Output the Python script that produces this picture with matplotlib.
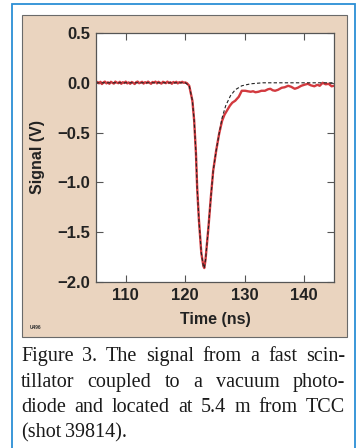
import matplotlib
matplotlib.use("Agg")
import matplotlib.pyplot as plt
from matplotlib.patches import Rectangle

t_sig = [105.0, 105.25, 105.5, 105.75, 106.0, 106.25, 106.5, 106.75, 107.0, 107.25,
         107.5, 107.75, 108.0, 108.25, 108.5, 108.75, 109.0, 109.25, 109.5, 109.75,
         110.0, 110.25, 110.5, 110.75, 111.0, 111.25, 111.5, 111.75, 112.0, 112.25,
         112.5, 112.75, 113.0, 113.25, 113.5, 113.75, 114.0, 114.25, 114.5, 114.75,
         115.0, 115.25, 115.5, 115.75, 116.0, 116.25, 116.5, 116.75, 117.0, 117.25,
         117.5, 117.75, 118.0, 118.25, 118.5, 118.75, 119.0, 119.25, 119.5, 119.75,
         120.0, 120.3, 120.67, 121.2, 121.5, 121.8, 122.0, 122.3, 122.7, 123.05,
         123.2, 123.4, 123.9, 124.3, 124.7, 125.2, 125.7, 126.2, 126.6, 127.1,
         127.5, 127.9, 128.4, 129.0, 129.5, 130.1, 130.5, 131.0, 131.4, 131.8,
         132.3, 132.8, 133.4, 133.9, 134.3, 134.7, 135.1, 135.6, 136.2, 136.7,
         137.3, 137.8, 138.4, 138.9, 139.5, 140.0, 140.6, 141.1, 141.7, 142.2,
         142.6, 143.1, 143.6, 144.1, 144.6, 145.0]
v_sig = [0.0, 0.008, -0.005, 0.01, -0.012, 0.004, 0.012, -0.006, 0.005, -0.01,
         0.01, 0.0, -0.008, 0.012, 0.002, -0.004, 0.01, -0.01, 0.006, -0.002,
         0.012, -0.006, 0.004, -0.01, 0.008, 0.0, -0.012, 0.006, 0.012, -0.004,
         0.002, 0.01, -0.008, 0.006, -0.002, 0.012, 0.0, -0.01, 0.008, 0.002,
         0.012, -0.006, 0.01, 0.0, -0.008, 0.01, 0.004, -0.004, 0.012, -0.002,
         0.006, -0.01, 0.008, 0.0, 0.01, -0.006, 0.006, 0.002, 0.01, 0.0,
         0.004, -0.005, -0.03, -0.18, -0.38, -0.71, -1.05, -1.38, -1.71, -1.84,
         -1.86, -1.78, -1.45, -1.15, -0.88, -0.68, -0.51, -0.38, -0.32, -0.27,
         -0.23, -0.20, -0.18, -0.14, -0.08, -0.08, -0.085, -0.09, -0.085, -0.095,
         -0.09, -0.08, -0.08, -0.065, -0.06, -0.075, -0.08, -0.07, -0.05, -0.045,
         -0.03, -0.04, -0.06, -0.05, -0.03, -0.02, -0.01, -0.025, -0.035, -0.02,
         -0.03, 0.0, -0.015, -0.01, -0.035, -0.03]

# fitted response (dashed)
t_fit = [105.0, 120.0, 120.67, 121.2, 121.5, 121.8, 122.0, 122.3, 122.7, 123.05,
         123.2, 123.4, 123.9, 124.3, 124.7, 125.2, 125.7, 126.2, 126.8, 127.6,
         128.4, 129.5, 131.0, 133.0, 145.0]
v_fit = [0.0, 0.0, -0.03, -0.18, -0.38, -0.71, -1.05, -1.38, -1.71, -1.84,
         -1.86, -1.78, -1.45, -1.15, -0.88, -0.68, -0.51, -0.35, -0.23, -0.13,
         -0.07, -0.03, -0.01, 0.0, 0.0]

x_ticks = [110, 120, 130, 140]
y_ticks = [-2.0, -1.5, -1.0, -0.5, 0.0, 0.5]
y_labels = ["\u22122.0", "\u22121.5", "\u22121.0", "\u22120.5", "0.0", "0.5"]

caption = ["Figure 3. The signal from a fast scin-",
           "tillator coupled to a vacuum photo-",
           "diode and located at 5.4 m from TCC",
           "(shot 39814)."]

W, H = 358, 448
fig = plt.figure(figsize=(W / 100, H / 100), dpi=100)
fig.patch.set_facecolor("white")

# blue frame and tan panel (behind the axes)
fig.add_artist(Rectangle((12 / W, -0.05), 343 / W, 1.05 - 4 / H, transform=fig.transFigure,
                         facecolor="none", edgecolor="#2b8fd6", lw=1.3, zorder=-2))
fig.add_artist(Rectangle((22 / W, 1 - 337 / H), 325 / W, 322 / H, transform=fig.transFigure,
                         facecolor="#ead4bf", edgecolor="#6a6a6a", lw=0.8, zorder=-1))

ax = fig.add_axes([96 / W, 1 - 282 / H, 238 / W, 249 / H])
ax.set_facecolor("white")
ax.plot(t_sig, v_sig, color="#d23a3f", lw=1.7, solid_joinstyle="round")
ax.plot(t_fit, v_fit, color="#222222", lw=0.8, ls=(0, (3, 2)))
ax.set_xlim(105, 145)
ax.set_ylim(-2.0, 0.5)
ax.set_xticks(x_ticks)
ax.set_yticks(y_ticks)
ax.set_yticklabels(y_labels)
for s in ax.spines.values():
    s.set_color("#555555")
    s.set_linewidth(0.9)
ax.tick_params(direction="in", length=5, width=0.8, color="#555555",
               top=True, right=True, labelsize=12, pad=4)
for lab in ax.get_xticklabels() + ax.get_yticklabels():
    lab.set_fontfamily("Liberation Sans")
    lab.set_fontweight("bold")
    lab.set_color("#222222")
ax.set_xlabel("Time (ns)", fontfamily="Liberation Sans", fontweight="bold",
              fontsize=11.5, color="#222222", labelpad=7)
ax.set_ylabel("Signal (V)", fontfamily="Liberation Sans", fontweight="bold",
              fontsize=11.5, color="#222222", labelpad=9)

fig.text(30 / W, 1 - 327 / H, "U496", fontsize=3.5, fontweight="bold",
         fontfamily="Liberation Sans", color="#333333", va="center")

# justified caption
x0, x1 = 21, 345
base = [361, 387, 412, 437]
renderer = fig.canvas.get_renderer()
for i, line in enumerate(caption):
    words = line.split(" ")
    texts = [fig.text(0, 1 - base[i] / H, w, fontsize=14.5, fontfamily="Liberation Serif",
                      color="#1a1a1a", va="baseline") for w in words]
    widths = [t.get_window_extent(renderer).width for t in texts]
    if i < len(caption) - 1:
        gap = (x1 - x0 - sum(widths)) / (len(words) - 1)
    else:
        gap = 4.0
    x = x0
    for t, w in zip(texts, widths):
        t.set_x(x / W)
        x += w + gap

fig.savefig("out.png", dpi=100, facecolor="white")
